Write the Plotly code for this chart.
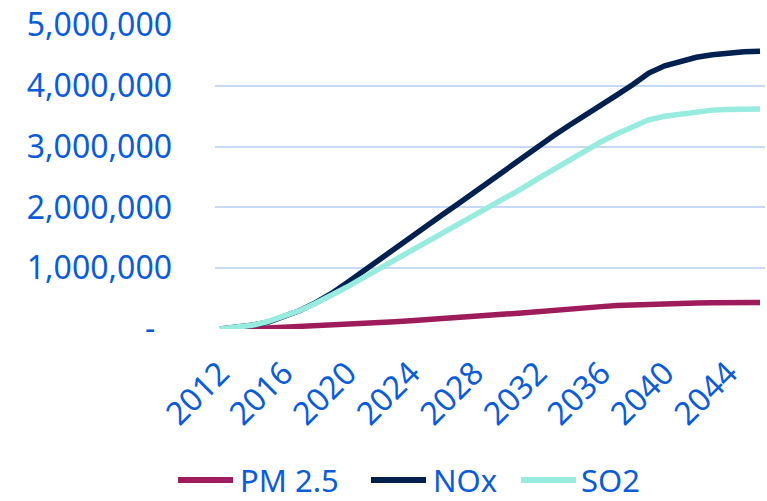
import plotly.graph_objects as go

years = list(range(2012, 2047))

pm25 = [0, 0.0, 0.005, 0.015, 0.03, 0.04, 0.05, 0.065, 0.08, 0.095, 0.11,
        0.12, 0.135, 0.15, 0.17, 0.19, 0.205, 0.225, 0.245, 0.265, 0.29,
        0.31, 0.33, 0.35, 0.368, 0.385, 0.398, 0.41, 0.418, 0.424, 0.429,
        0.432, 0.434, 0.436, 0.437]
nox = [0, 0.02, 0.06, 0.11, 0.20, 0.30, 0.43, 0.58, 0.76, 0.95, 1.14,
       1.32, 1.51, 1.69, 1.88, 2.06, 2.25, 2.44, 2.63, 2.82, 3.01,
       3.18, 3.35, 3.51, 3.68, 3.85, 4.02, 4.21, 4.33, 4.41, 4.47,
       4.51, 4.54, 4.56, 4.57]
so2 = [0, 0.02, 0.06, 0.12, 0.20, 0.30, 0.42, 0.55, 0.69, 0.84, 0.985,
       1.13, 1.28, 1.43, 1.57, 1.72, 1.86, 2.01, 2.16, 2.31, 2.47,
       2.62, 2.78, 2.94, 3.08, 3.21, 3.33, 3.44, 3.50, 3.54, 3.58,
       3.60, 3.61, 3.62, 3.62]

series_names = ["PM 2.5", "NOx", "SO2"]
series_vals = [pm25, nox, so2]
series_colors = ["#9E1C5C", "#00204F", "#97EBDF"]

y_tickvals = [0, 1e6, 2e6, 3e6, 4e6, 5e6]
y_ticktext = ["-\u00a0\u00a0", "1,000,000", "2,000,000", "3,000,000", "4,000,000", "5,000,000"]
x_tickvals = list(range(2012, 2045, 4))

text_color = "#0B5CD6"
font_family = "Noto Sans"

W, H = 767, 501
ML, MR, MT, MB = 215, 2, 25, 172
PW, PH = W - ML - MR, H - MT - MB

def px_x(px):
    return (px - ML) / PW

def px_y(py):
    return (H - MB - py) / PH

fig = go.Figure()
for name, vals, col in zip(series_names, series_vals, series_colors):
    fig.add_trace(go.Scatter(
        x=years, y=[v * 1e6 for v in vals], name=name, mode="lines",
        line=dict(color=col, width=5.5), showlegend=False,
    ))

# custom legend (long line symbols like the original)
legend_line_x = [(178, 233), (371, 426), (521, 576)]
legend_text_x = [238, 431, 579]
legend_y = 480
shapes, annotations = [], []
for (x0, x1), tx, name, col in zip(legend_line_x, legend_text_x, series_names, series_colors):
    shapes.append(dict(type="line", xref="paper", yref="paper",
                       x0=px_x(x0), x1=px_x(x1), y0=px_y(legend_y), y1=px_y(legend_y),
                       line=dict(color=col, width=6)))
    annotations.append(dict(xref="paper", yref="paper", x=px_x(tx), y=px_y(legend_y),
                            xanchor="left", yanchor="middle", showarrow=False,
                            text=name, font=dict(size=31, color=text_color, family=font_family)))

fig.update_layout(
    width=W, height=H,
    margin=dict(l=ML, r=MR, t=MT, b=MB),
    paper_bgcolor="white", plot_bgcolor="white",
    font=dict(family=font_family, size=32, color=text_color),
    showlegend=False,
    shapes=shapes, annotations=annotations,
)
fig.update_xaxes(
    range=[2011.685, 2046.315], tickvals=x_tickvals, tickangle=-45,
    showgrid=False, zeroline=False, showline=False, ticks="",
    ticklabelstandoff=18,
    tickfont=dict(size=32, color=text_color),
)
fig.update_yaxes(
    range=[0, 5e6], tickvals=y_tickvals, ticktext=y_ticktext,
    showgrid=True, gridcolor="#C6DAF6", gridwidth=2, zeroline=False, showline=False,
    ticks="", ticklabelstandoff=42,
    tickfont=dict(size=32, color=text_color),
)

fig.write_html("out.html")
